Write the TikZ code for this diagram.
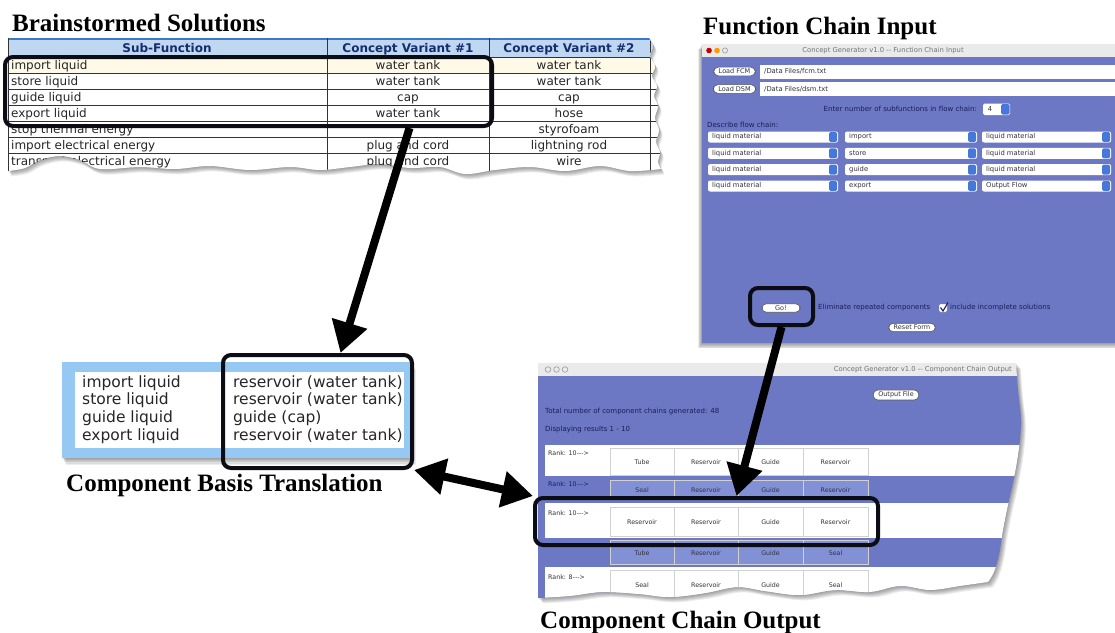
\documentclass[tikz,border=0pt]{standalone}
\usepackage{fontspec}
\setmainfont{Liberation Serif}
\newfontfamily\uifont{DejaVu Sans}
\usetikzlibrary{arrows.meta,fit,calc}
\definecolor{uiblue}{RGB}{108,120,196}
\definecolor{cellblue}{RGB}{130,144,214}
\definecolor{hdrblue}{RGB}{192,215,242}
\definecolor{hdrline}{RGB}{60,120,200}
\definecolor{hdrtext}{RGB}{20,45,110}
\definecolor{skyblue}{RGB}{150,200,244}
\definecolor{hlcol}{RGB}{12,12,20}
\definecolor{uitext}{RGB}{50,50,60}
\definecolor{navytext}{RGB}{25,30,90}
\definecolor{barbg}{RGB}{234,234,234}
\definecolor{stepblue}{RGB}{70,120,220}
\definecolor{cream}{RGB}{255,249,232}
\tikzset{
  title/.style={font=\bfseries\fontsize{25}{28}\selectfont, anchor=base west, inner sep=0},
  hl/.style={draw=hlcol, line width=4pt, rounded corners=8pt, inner sep=0},
  bigarrow/.style={line width=8pt, -{Triangle[length=31pt,width=35pt]}},
  dblarrow/.style={line width=8pt, {Triangle[length=31pt,width=35pt]}-{Triangle[length=31pt,width=35pt]}},
  tcell/.style={font=\uifont\fontsize{12}{13}\selectfont, inner sep=0, text=black!85},
  hdr/.style={font=\uifont\bfseries\fontsize{12}{13}\selectfont, inner sep=0, text=hdrtext, anchor=base},
  btxt/.style={font=\uifont\fontsize{15.5}{17}\selectfont, inner sep=0, anchor=base west, text=black!85},
  uitxt/.style={font=\uifont\fontsize{6.8}{8}\selectfont, inner sep=0, text=uitext},
  navtxt/.style={font=\uifont\fontsize{7}{8}\selectfont, inner sep=0, text=navytext},
  bartxt/.style={font=\uifont\fontsize{6.8}{8}\selectfont, inner sep=0, text=black!55},
  celltxt/.style={font=\uifont\fontsize{6.3}{7}\selectfont, inner sep=0, text=uitext},
  pill/.style={draw=black!65, fill=white, rounded corners=4.5pt, line width=.6pt,
    font=\uifont\fontsize{6.5}{7}\selectfont, text=uitext, inner xsep=5pt, inner ysep=1.8pt},
  softshadow/.style={fill=black, opacity=.07}
}
\begin{document}
\begin{tikzpicture}[x=1pt,y=-1pt]
\useasboundingbox (0,0) rectangle (1115,632);
\fill[white] (0,0) rectangle (1115,632);

% ================= Brainstormed Solutions =================
\def\tornA{(8,38) -- (649,38) -- plot[smooth,tension=.6] coordinates {(649,38) (653,46) (650,56) (655,66) (652,76) (657,86) (654,96) (658,106) (655,118) (659,130) (656,142) (660,152) (658,162) (661,169)} -- plot[smooth,tension=.6] coordinates {(661,169) (630,171) (600,166) (565,171) (530,167) (495,170) (465,174) (440,167) (410,168) (380,164) (350,167) (320,170) (290,167) (250,170) (210,166) (175,169) (140,167) (100,169) (80,160) (60,156) (40,160) (25,168) (8,171)} -- cycle}
\foreach \s in {1,...,6} \fill[softshadow, shift={(0.6*\s,0.9*\s)}] \tornA;
\begin{scope}
  \clip \tornA;
  \fill[white] (0,30) rectangle (670,185);
  \fill[hdrblue] (8,38) rectangle (670,57);
  \fill[cream] (8,57) rectangle (670,73);
  \foreach \yy in {57,73,89,105,121,137,153}
    \draw[line width=.8pt, black!80] (8,\yy) -- (670,\yy);
  \draw[hdrline, line width=2pt] (8,39) -- (670,39);
  \draw[line width=1pt, black!80] (8.5,38) -- (8.5,185);
  \foreach \xx in {327,489,650}
    \draw[line width=.8pt, black!80] (\xx,38) -- (\xx,185);
  \node[hdr] (h1) at (167,52) {Sub-Function};
  \node[hdr] (h2) at (408,52) {Concept Variant \#1};
  \node[hdr] (h3) at (569,52) {Concept Variant \#2};
  \foreach \i/\a/\b/\c in {1/import liquid/water tank/water tank,
      2/store liquid/water tank/water tank,
      3/guide liquid/cap/cap,
      4/export liquid/water tank/hose,
      5/stop thermal energy//styrofoam,
      6/import electrical energy/plug and cord/lightning rod,
      7/transport electrical energy/plug and cord/wire}{
    \pgfmathsetmacro\yb{57+16*\i-4}
    \node[tcell, anchor=base west] (ra\i) at (11,\yb) {\a};
    \node[tcell, anchor=base] (rb\i) at (408,\yb) {\b};
    \node[tcell, anchor=base] (rc\i) at (569,\yb) {\c};
  }
\end{scope}
\node[title] (tA) at (12,31.5) {Brainstormed Solutions};
\node[hl, fit={(5,57) (492,126)}] (hlA) {};

% ================= Function Chain Input =================
\node[title] (tF) at (703,34.5) {Function Chain Input};
\foreach \s in {1,...,6} \fill[softshadow] (702-0.7*\s,44+0.9*\s) rectangle (1115,343+0.9*\s);
\fill[barbg] (702,44) rectangle (1115,57);
\fill[uiblue] (702,57) rectangle (1115,343);
\fill[red!75!black] (709,50.5) circle[radius=2.8pt];
\fill[orange!80!yellow] (717,50.5) circle[radius=2.8pt];
\draw[black!40, line width=.6pt] (725,50.5) circle[radius=2.6pt];
\node[bartxt] (barF) at (883,50.5) {Concept Generator v1.0 -- Function Chain Input};
\node[pill] (lfcm) at (734.5,71.5) {Load FCM};
\node[pill] (ldsm) at (734.5,89) {Load DSM};
\fill[white] (760,64.5) rectangle (1115,78.5);
\fill[white] (760,82) rectangle (1115,96);
\node[uitxt, anchor=west] (ffcm) at (764,71.5) {/Data Files/fcm.txt};
\node[uitxt, anchor=west] (fdsm) at (764,89) {/Data Files/dsm.txt};
\node[navtxt, anchor=east] (enter) at (977,109) {Enter number of subfunctions in flow chain:};
\fill[white, rounded corners=1.5pt] (983,103.5) rectangle (1010,115);
\fill[stepblue, rounded corners=1.5pt] (1001,104) rectangle (1009.5,114.5);
\node[uitxt] (four) at (990,109.3) {4};
\node[navtxt, anchor=west] (descr) at (707,125) {Describe flow chain:};
\foreach \r/\yc/\p/\q/\s in {1/137/liquid material/import/liquid material,
    2/153.3/liquid material/store/liquid material,
    3/169.6/liquid material/guide/liquid material,
    4/186/liquid material/export/Output Flow}{
  \foreach \xa/\xb/\t [count=\c] in {708/838/\p, 845/977/\q, 982/1111/\s}{
    \fill[white, rounded corners=2pt] (\xa,\yc-5.5) rectangle (\xb,\yc+5.5);
    \fill[stepblue, rounded corners=1.5pt] (\xb-9,\yc-5) rectangle (\xb-1,\yc+5);
    \node[uitxt, anchor=west] (dd\r\c) at (\xa+4,\yc) {\t};
  }
}
\node[pill, minimum width=38pt] (go) at (781,308) {Go!};
\node[navtxt, anchor=west] (elim) at (818,308) {Eliminate repeated components};
\draw[fill=white, draw=black!50, rounded corners=1pt] (939,304) rectangle (947,312);
\draw[line width=1.1pt, navytext] (940.5,307.5) -- (943,311) -- (948,302.5);
\node[navtxt, anchor=west] (incl) at (950,308) {include incomplete solutions};
\node[pill] (reset) at (912,327.5) {Reset Form};
\node[hl, fit={(750,288) (813,325)}] (hlGo) {};

% ================= Component Basis Translation =================
\foreach \s in {1,...,6} \fill[softshadow] (62+0.6*\s,362+1.1*\s) rectangle (412+0.6*\s,458+1.1*\s);
\fill[skyblue] (62,362) rectangle (412,458);
\fill[white] (75,372) rectangle (404,448);
\foreach \i/\a/\b in {1/import liquid/reservoir (water tank),
    2/store liquid/reservoir (water tank),
    3/guide liquid/guide (cap),
    4/export liquid/reservoir (water tank)}{
  \pgfmathsetmacro\yb{387+17.8*(\i-1)}
  \node[btxt] (bl\i) at (82,\yb) {\a};
  \node[btxt] (br\i) at (233,\yb) {\b};
}
\node[hl, fit={(223,355) (412,468)}] (hlB) {};
\node[title] (tB) at (66,491) {Component Basis Translation};

% ================= Component Chain Output =================
\def\tornC{(538,363) -- (1016,363) -- plot[smooth,tension=.6] coordinates {(1016,363) (1018,390) (1021,420) (1019,448) (1014,478) (1008,505) (1003,530) (999,555) (994,572) (988,582)} -- plot[smooth,tension=.6] coordinates {(988,582) (960,586) (930,590) (900,586) (870,592) (835,590) (800,595) (765,591) (737,587) (705,593) (670,597) (640,594) (603,592) (570,596) (538,598)} -- cycle}
\foreach \s in {1,...,6} \fill[softshadow, shift={(0.8*\s,0.9*\s)}] \tornC;
\begin{scope}
  \clip \tornC;
  \fill[barbg] (530,360) rectangle (1030,376);
  \fill[uiblue] (530,376) rectangle (1030,610);
  \fill[white] (545,445) rectangle (1030,476);
  \fill[white] (545,503) rectangle (1030,538);
  \fill[white] (545,567) rectangle (1030,610);
  \foreach \k in {0,1,2} \draw[black!40, line width=.6pt] (548+8.5*\k,369.5) circle[radius=2.8pt];
  \node[bartxt, anchor=east] (barC) at (1012,369.5) {Concept Generator v1.0 -- Component Chain Output};
  \node[pill] (outf) at (896,395) {Output File};
  \node[navtxt, anchor=west] (total) at (545,412) {Total number of component chains generated: 48};
  \node[navtxt, anchor=west] (disp) at (545,430) {Displaying results 1 - 10};
  \foreach \r/\ya/\yc/\fc/\ca/\cb/\cc/\cd in {A/448/475/white/Tube/Reservoir/Guide/Reservoir,
      B/480/498/cellblue/Seal/Reservoir/Guide/Reservoir,
      C/507/536/white/Reservoir/Reservoir/Guide/Reservoir,
      D/540/564/cellblue/Tube/Reservoir/Guide/Seal,
      E/570/598/white/Seal/Reservoir/Guide/Seal}{
    \foreach \xa/\xb/\t [count=\c] in {610/674/\ca, 674/738/\cb, 738/803/\cc, 803/868/\cd}{
      \filldraw[fill=\fc, draw=black!18, line width=.7pt] (\xa,\ya) rectangle (\xb,\yc);
      \node[celltxt] (cc\r\c) at ({(\xa+\xb)/2},{(\ya+\yc)/2+1}) {\t};
    }
  }
  \node[celltxt, anchor=west] (rkA) at (548,453) {Rank: 10---{}>};
  \node[celltxt, anchor=west, text=navytext] (rkB) at (548,484) {Rank: 10---{}>};
  \node[celltxt, anchor=west] (rkC) at (548,513) {Rank: 10---{}>};
  \node[celltxt, anchor=west] (rkE) at (548,577) {Rank: 8---{}>};
\end{scope}
\node[hl, fit={(535,498) (878,545)}] (hlC) {};
\node[title] (tC) at (540,628) {Component Chain Output};

% ================= Arrows =================
\draw[bigarrow] ([xshift=161pt]hlA.south) -- ([xshift=23pt]hlB.north);
\draw[bigarrow] (hlGo.south) -- ([xshift=30pt]hlC.north);
\draw[dblarrow] (hlB.south east) -- (hlC.north west);
\end{tikzpicture}
\end{document}
